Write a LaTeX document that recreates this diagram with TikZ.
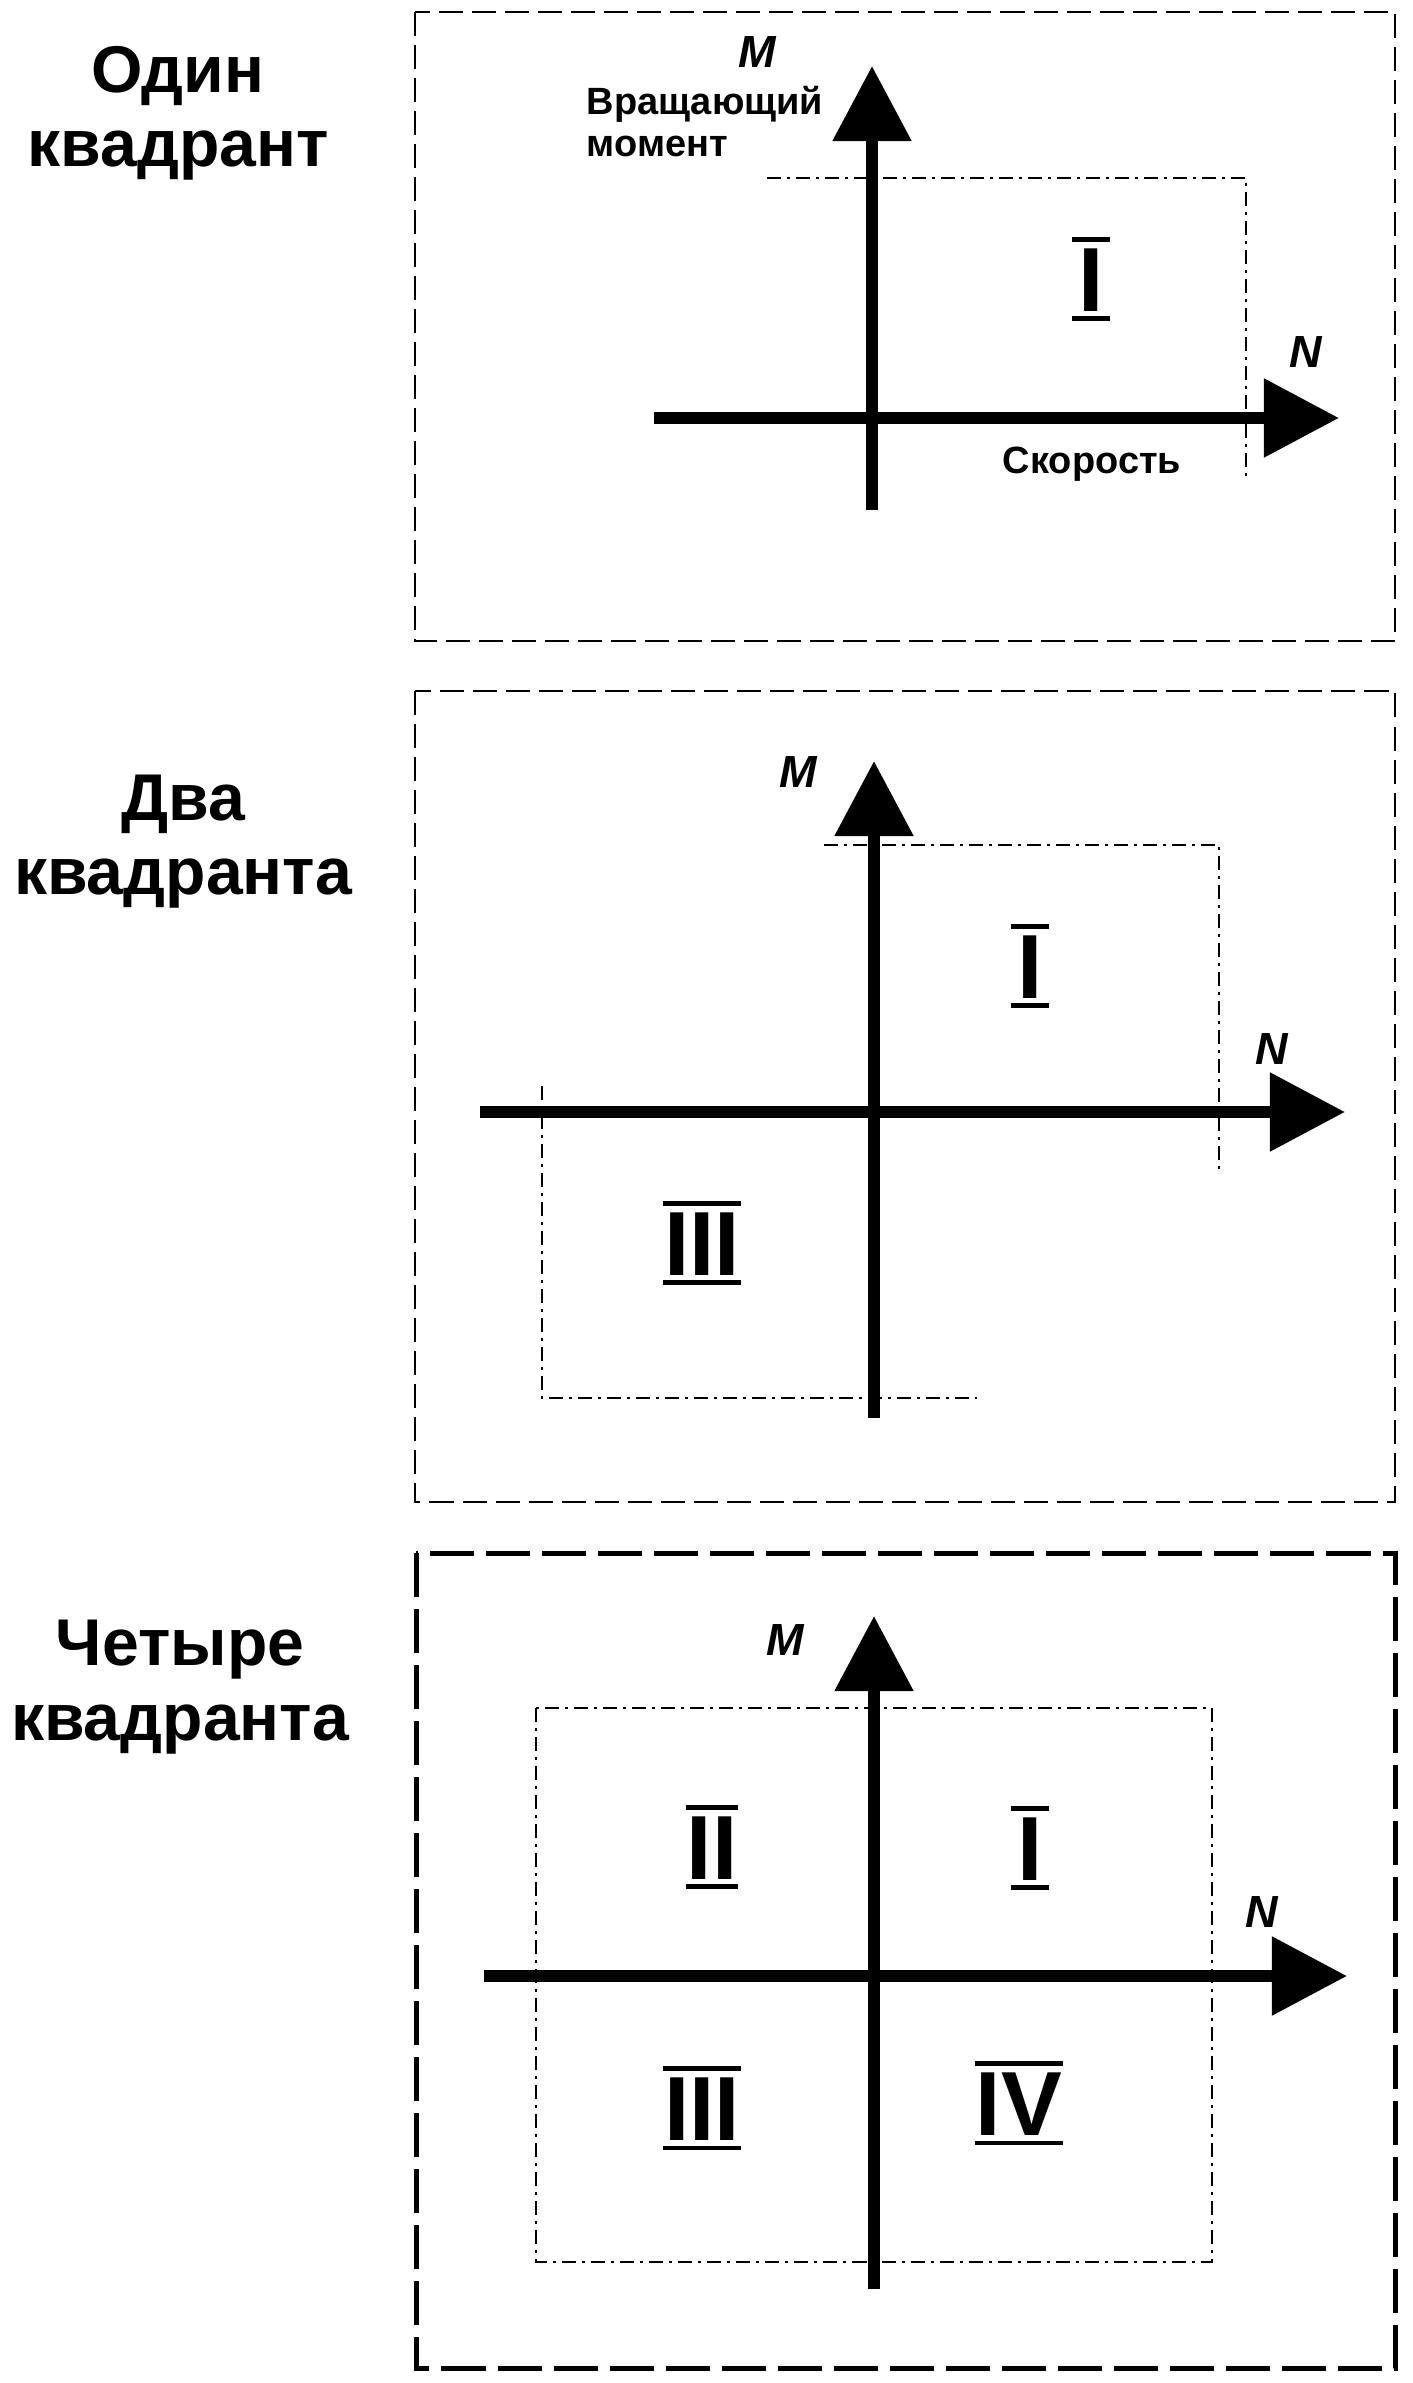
\documentclass[tikz,border=0pt]{standalone}
\usepackage{fontspec}
\setmainfont{Liberation Sans}
\usetikzlibrary{arrows.meta, positioning}

\begin{document}
\begin{tikzpicture}[
    x=0.01cm, y=-0.01cm,
    panel/.style={draw, line width=0.025cm, dash pattern=on 0.24cm off 0.09cm},
    panelbold/.style={draw, line width=0.05cm, dash pattern=on 0.44cm off 0.12cm},
    zone/.style={line width=0.025cm, dash pattern=on 0.14cm off 0.06cm on 0.03cm off 0.06cm},
    axarrow/.style={line width=0.12cm, -{Triangle[length=0.75cm, width=0.76cm]}},
    heading/.style={font=\fontsize{18.8}{21.3}\selectfont\bfseries, align=center, inner sep=0pt},
    lbl/.style={font=\fontsize{12.8}{14}\selectfont\bfseries\itshape, inner sep=0pt},
    capt/.style={font=\fontsize{10.8}{12}\selectfont\bfseries, align=left, inner sep=0pt},
    numbar/.style={draw, line width=0.045cm},
    rnum/.style={
        font=\fontsize{25.9}{28}\selectfont\bfseries,
        inner xsep=0pt, inner ysep=0.065cm,
        text height=0.65cm, text depth=0pt, minimum width=0.37cm,
        append after command={
            (\tikzlastnode.north west) edge[numbar] (\tikzlastnode.north east)
            (\tikzlastnode.south west) edge[numbar] (\tikzlastnode.south east)}
    }
]
\useasboundingbox (0,0) rectangle (1412,2383);

\draw[panel] (415,12) rectangle (1395,641);
\node[heading, anchor=base] (t1) at (178,167) {Один\\квадрант};
\coordinate (top1) at (872,66);
\coordinate (bot1) at (872,510);
\coordinate (lft1) at (654,418);
\coordinate (rgt1) at (1339,418);
\draw[axarrow] (bot1) -- (top1);
\draw[axarrow] (lft1) -- (rgt1);
\draw[zone] (767,178) -- (1246,178) -- (1246,477);
\node[lbl] (m1) at (757,52) {M};
\node[lbl] (n1) at (1306,352) {N};
\node[capt, anchor=base west] (torque) at (586,157) {Вращающий\\момент};
\node[capt, anchor=base] (speed) at (1092,474) {Скорость};
\node[rnum] (q1a) at (1091,279) {I};

\draw[panel] (415,691) rectangle (1395,1502);
\node[heading, anchor=base] (t2) at (183,895) {Два\\квадранта};
\coordinate (top2) at (874,761);
\coordinate (bot2) at (874,1418);
\coordinate (lft2) at (480,1112);
\coordinate (rgt2) at (1345,1112);
\draw[axarrow] (bot2) -- (top2);
\draw[axarrow] (lft2) -- (rgt2);
\draw[zone] (824,845) -- (1219,845) -- (1219,1170);
\draw[zone] (542,1086) -- (542,1398) -- (977,1398);
\node[lbl] (m2) at (798,772) {M};
\node[lbl] (n2) at (1272,1049) {N};
\node[rnum] (q2a) at (1030,966) {I};
\node[rnum] (q2c) at (702,1243) {III};

\draw[panelbold] (416,1553) rectangle (1395,2368);
\node[heading, anchor=base] (t3) at (180,1740) {Четыре\\квадранта};
\coordinate (top3) at (874,1616);
\coordinate (bot3) at (874,2289);
\coordinate (lft3) at (484,1976);
\coordinate (rgt3) at (1347,1976);
\draw[axarrow] (bot3) -- (top3);
\draw[axarrow] (lft3) -- (rgt3);
\draw[zone] (536,1708) rectangle (1212,2262);
\node[lbl] (m3) at (785,1640) {M};
\node[lbl] (n3) at (1262,1912) {N};
\node[rnum] (q3a) at (1030,1848) {I};
\node[rnum] (q3b) at (712,1847) {II};
\node[rnum] (q3c) at (702,2108) {III};
\node[rnum] (q3d) at (1019,2103) {IV};

\end{tikzpicture}
\end{document}
